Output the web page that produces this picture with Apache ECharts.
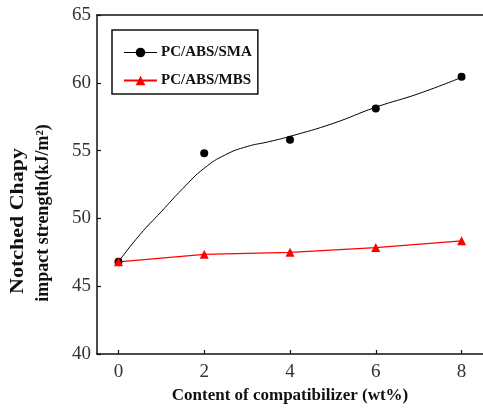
<!DOCTYPE html>
<html>
<head>
<meta charset="utf-8">
<script src="https://cdn.jsdelivr.net/npm/echarts@6/dist/echarts.min.js"></script>
<style>html,body{margin:0;padding:0;background:#fff;}#c{width:483px;height:409px;}</style>
</head>
<body>
<div id="c"></div>
<script>
var xValues = [0, 2, 4, 6, 8];
var smaValues = [46.8, 54.8, 55.8, 58.1, 60.45];
var mbsValues = [46.8, 47.35, 47.5, 47.85, 48.35];
// fitted curve for PC/ABS/SMA
var smaFitX = [0, 0.5, 1, 1.5, 2, 2.5, 3, 3.5, 4, 5, 6, 7, 8];
var smaFitY = [46.8, 48.8, 50.5, 52.2, 53.7, 54.7, 55.3, 55.65, 56.05, 57.0, 58.2, 59.2, 60.4];
var yTicks = [40, 45, 50, 55, 60, 65];
var xTicks = [0, 2, 4, 6, 8];

function pairs(xs, ys) { return xs.map(function (x, i) { return [x, ys[i]]; }); }

var chart = echarts.init(document.getElementById('c'));
var serif = 'Liberation Serif';
chart.setOption({
  animation: false,
  backgroundColor: '#fff',
  grid: { left: 97, top: 15, bottom: 55, right: -2, show: false },
  legend: {
    left: 112, top: 30, orient: 'vertical',
    padding: [15, 6, 6, 11], itemGap: 13, itemWidth: 33, itemHeight: 12,
    borderColor: '#111', borderWidth: 1.5,
    textStyle: { fontFamily: serif, fontWeight: 'bold', fontSize: 15, color: '#111', padding: [0, 0, 0, -1] },
    data: [
      { name: 'PC/ABS/SMA', lineStyle: { color: '#000', width: 1.2, opacity: 1 } },
      { name: 'PC/ABS/MBS' }
    ]
  },
  xAxis: [{
    type: 'value', min: -0.5, max: 8.5, interval: 2,
    name: 'Content of compatibilizer (wt%)', nameLocation: 'middle', nameGap: 33,
    nameTextStyle: { fontFamily: serif, fontWeight: 'bold', fontSize: 17, color: '#111' },
    axisLine: { show: true, onZero: false, lineStyle: { color: '#111', width: 1.5 } },
    axisTick: { show: true, inside: true, length: 4, lineStyle: { color: '#111', width: 1.2 },
      customValues: xTicks },
    axisLabel: { fontFamily: serif, fontSize: 19, color: '#333', margin: 9, customValues: xTicks,
      formatter: function (v) { return xTicks.indexOf(v) >= 0 ? String(v) : ''; } },
    splitLine: { show: false }
  }, {
    type: 'value', position: 'top', min: -0.5, max: 8.5,
    axisLine: { show: true, onZero: false, lineStyle: { color: '#111', width: 1.5 } },
    axisTick: { show: false }, axisLabel: { show: false }, splitLine: { show: false }
  }],
  yAxis: {
    type: 'value', min: 40, max: 65, interval: 5,
    axisLine: { show: true, onZero: false, lineStyle: { color: '#111', width: 1.5 } },
    axisTick: { show: true, inside: true, length: 4, lineStyle: { color: '#111', width: 1.2 } },
    axisLabel: { fontFamily: serif, fontSize: 19, color: '#333', margin: 6,
      formatter: function (v) { return yTicks.indexOf(v) >= 0 ? String(v) : ''; } },
    splitLine: { show: false }
  },
  graphic: [
    { type: 'text', x: 18, y: 221, rotation: Math.PI / 2, scaleX: 1.22,
      style: { text: 'Notched Chapy', font: 'bold 18px "Liberation Serif"', fill: '#111', align: 'center', verticalAlign: 'middle' } },
    { type: 'text', x: 43, y: 213, rotation: Math.PI / 2,
      style: { text: 'impact strength(kJ/m\u00B2)', font: 'bold 18px "Liberation Serif"', fill: '#111', align: 'center', verticalAlign: 'middle' } }
  ],
  series: [
    {
      name: 'SMA fit', type: 'line', smooth: 0.5, showSymbol: false, silent: true,
      data: pairs(smaFitX, smaFitY),
      lineStyle: { color: '#000', width: 1 }, z: 2
    },
    {
      name: 'PC/ABS/SMA', type: 'line', data: pairs(xValues, smaValues),
      symbol: 'circle', symbolSize: 8, itemStyle: { color: '#000' },
      lineStyle: { color: '#000', width: 0, opacity: 0 }, z: 3
    },
    {
      name: 'PC/ABS/MBS', type: 'line', data: pairs(xValues, mbsValues),
      symbol: 'triangle', symbolSize: 9, itemStyle: { color: '#ff0000' },
      lineStyle: { color: '#ff0000', width: 1.3 }, z: 3
    }
  ]
});
</script>
</body>
</html>
